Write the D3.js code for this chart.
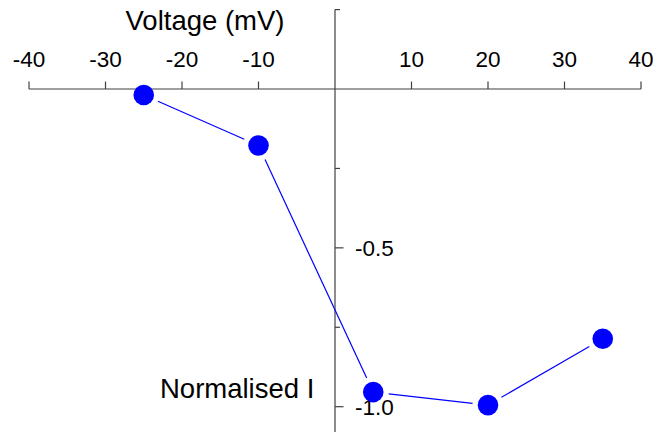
<!DOCTYPE html>
<html>
<head>
<meta charset="utf-8">
<script src="https://cdn.jsdelivr.net/npm/d3@7"></script>
<style>
  html, body { margin: 0; padding: 0; background: #fff; }
  svg { display: block; font-family: "Liberation Sans", Arial, sans-serif; }
</style>
</head>
<body>
<svg id="chart" width="653" height="432"></svg>
<script>
// Normalised current vs. membrane voltage
const voltage = [-25, -10, 5, 20, 35];
const current = [-0.019, -0.178, -0.954, -0.995, -0.786];

const xTicks = [-40, -30, -20, -10, 10, 20, 30, 40];
const yMajorTicks = [-0.5, -1.0];
const yMinorTicks = [0.25, -0.25, -0.75];

const svg = d3.select("#chart");
const W = 653, H = 432;

const x = d3.scaleLinear().domain([-40, 40]).range([29, 641]);
const y = d3.scaleLinear().domain([0.25, -1.0]).range([9.6, 406.7]);

const axisColor = "#404040";
const fmt = v => (v < 0 ? "-" : "") + Math.abs(v).toFixed(1);

// Horizontal axis at I = 0, ticks and labels above
const gx = svg.append("g").attr("transform", `translate(0,${y(0)})`);
gx.append("line")
  .attr("x1", x(-40)).attr("x2", x(40))
  .attr("stroke", axisColor).attr("stroke-width", 1.2);
gx.selectAll("line.tick").data(xTicks).join("line")
  .attr("class", "tick")
  .attr("x1", d => x(d)).attr("x2", d => x(d))
  .attr("y1", 0).attr("y2", -7.5)
  .attr("stroke", axisColor).attr("stroke-width", 1.2);
gx.selectAll("text").data(xTicks).join("text")
  .attr("x", d => x(d)).attr("y", -22)
  .attr("text-anchor", "middle")
  .attr("font-size", 22.5)
  .attr("fill", "#000")
  .text(d => String(d));

// Vertical axis at V = 0, ticks pointing right
const gy = svg.append("g").attr("transform", `translate(${x(0)},0)`);
gy.append("line")
  .attr("y1", y(0.25)).attr("y2", H)
  .attr("stroke", axisColor).attr("stroke-width", 1.2);
gy.selectAll("line.minor").data(yMinorTicks).join("line")
  .attr("class", "minor")
  .attr("x1", 0).attr("x2", 5)
  .attr("y1", d => y(d)).attr("y2", d => y(d))
  .attr("stroke", axisColor).attr("stroke-width", 1.2);
gy.selectAll("line.major").data(yMajorTicks).join("line")
  .attr("class", "major")
  .attr("x1", 0).attr("x2", 8.5)
  .attr("y1", d => y(d)).attr("y2", d => y(d))
  .attr("stroke", axisColor).attr("stroke-width", 1.2);
gy.selectAll("text").data(yMajorTicks).join("text")
  .attr("x", 20).attr("y", d => y(d) + 8)
  .attr("font-size", 22.5)
  .attr("fill", "#000")
  .text(fmt);

// Axis titles
svg.append("text")
  .attr("x", 205).attr("y", 29.5)
  .attr("text-anchor", "middle")
  .attr("font-size", 27.5)
  .attr("fill", "#000")
  .text("Voltage (mV)");
svg.append("text")
  .attr("x", 160).attr("y", 398)
  .attr("font-size", 27.5)
  .attr("fill", "#000")
  .text("Normalised I");

// Connecting segments, stopped short of each marker
const pts = voltage.map((v, i) => [x(v), y(current[i])]);
const gap = 15.5;
const segs = d3.pairs(pts).map(([a, b]) => {
  const dx = b[0] - a[0], dy = b[1] - a[1];
  const len = Math.hypot(dx, dy);
  const ux = dx / len, uy = dy / len;
  return [a[0] + ux * gap, a[1] + uy * gap, b[0] - ux * gap, b[1] - uy * gap];
});
svg.append("g").selectAll("line").data(segs).join("line")
  .attr("x1", d => d[0]).attr("y1", d => d[1])
  .attr("x2", d => d[2]).attr("y2", d => d[3])
  .attr("stroke", "#0000ff").attr("stroke-width", 1.2);

// Markers
svg.append("g").selectAll("circle").data(pts).join("circle")
  .attr("cx", d => d[0]).attr("cy", d => d[1])
  .attr("r", 10.3)
  .attr("fill", "#0000ff");
</script>
</body>
</html>
